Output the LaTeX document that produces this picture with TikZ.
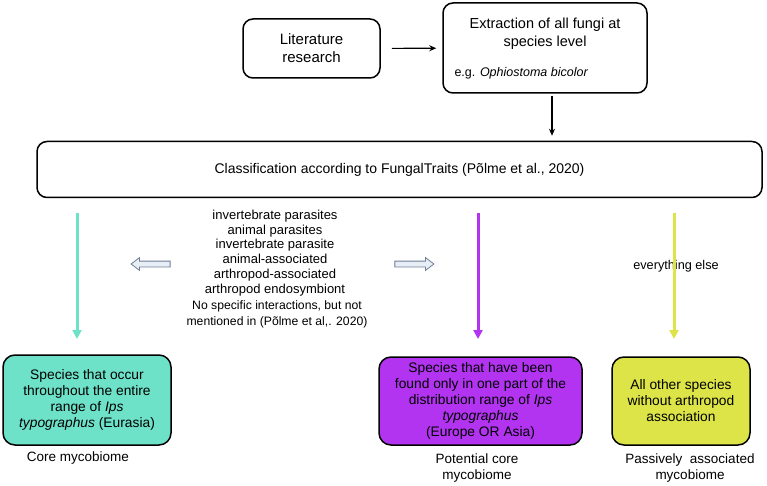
\documentclass[tikz,border=0pt]{standalone}
\usepackage{fontspec}
\setmainfont{Liberation Sans}
\usetikzlibrary{arrows.meta,shapes.arrows}
\definecolor{tealc}{RGB}{110,226,200}
\definecolor{purpc}{RGB}{178,52,240}
\definecolor{yelc}{RGB}{221,228,72}
\definecolor{hollowfill}{RGB}{232,238,246}
\definecolor{hollowline}{RGB}{110,125,150}
\tikzset{
  box/.style={draw=black, line width=1.5pt, rounded corners=10pt, inner sep=0pt},
  cbox/.style={draw=black, line width=1.5pt, rounded corners=12pt, inner sep=0pt, align=center, font=\fontsize{13.8}{16}\selectfont},
  blk/.style={-{Stealth[length=7pt,width=6pt]}, line width=1.1pt},
  colarr/.style={line width=3pt, -{Triangle[length=9pt,width=9pt]}},
  hollow/.style={single arrow, draw=hollowline, fill=hollowfill, line width=0.8pt,
    minimum height=39pt, inner xsep=0pt, inner ysep=2.5pt, single arrow head extend=3.5pt,
    single arrow tip angle=75},
  lbl/.style={align=center, font=\fontsize{13.5}{16}\selectfont},
}
\begin{document}
\begin{tikzpicture}[x=1pt,y=-1pt]
\useasboundingbox (0,0) rectangle (767,486);
% top boxes
\node[box, minimum width=137pt, minimum height=59pt, align=center, font=\fontsize{15}{18}\selectfont] (lit) at (311.5,48.5) {Literature\\research};
\node[box, minimum width=204pt, minimum height=90pt] (ext) at (545,48) {};
\node[align=center, font=\fontsize{14.5}{18}\selectfont] (exttitle) at (545,34) {Extraction of all fungi at\\species level};
\node[anchor=west, font=\fontsize{12.5}{14}\selectfont] (exteg) at (451,73) {e.g. \textit{Ophiostoma bicolor}};
\draw[blk, shorten <=11pt, shorten >=6pt] (lit) -- (ext);
\coordinate (dx) at (552,0);
\node[box, minimum width=725pt, minimum height=56pt, font=\fontsize{14}{16}\selectfont] (cls) at (399.5,169.5) {Classification according to FungalTraits (Põlme et al., 2020)};
\draw[blk, shorten <=2pt, shorten >=5pt] (ext.south -| dx) -- (cls.north -| dx);
% colored arrows
\coordinate (ta) at (77,213); \coordinate (tb) at (77,339);
\coordinate (pa) at (478,213); \coordinate (pb) at (478,339);
\coordinate (ya) at (674,213); \coordinate (yb) at (674,339);
% middle text
\node[align=center, font=\fontsize{13}{14.8}\selectfont] (mid) at (275,253) {invertebrate parasites\\animal parasites\\invertebrate parasite\\animal-associated\\arthropod-associated\\arthropod endosymbiont};
\node[align=center, font=\fontsize{12.2}{16}\selectfont] (mid2) at (277,314) {No specific interactions, but not\\mentioned in (Põlme et al,. 2020)};
\node[hollow, shape border rotate=180] (hl) at (152.5,264) {};
\node[hollow] (hr) at (412.5,264) {};
\node[font=\fontsize{12.7}{15}\selectfont] (else) at (676,266) {everything else};
\draw[colarr, tealc] (ta) -- (tb);
\draw[colarr, purpc] (pa) -- (pb);
\draw[colarr, yelc] (ya) -- (yb);
% bottom boxes
\node[cbox, fill=tealc, minimum width=168pt, minimum height=90pt] (core) at (87,400) {Species that occur\\throughout the entire\\range of \textit{Ips}\\\textit{typographus} (Eurasia)};
\node[cbox, fill=purpc, minimum width=203pt, minimum height=88pt] (pot) at (480.5,401) {Species that have been\\found only in one part of the\\distribution range of \textit{Ips}\\\textit{typographus}\\(Europe OR Asia)};
\node[cbox, fill=yelc, minimum width=138pt, minimum height=88pt] (pas) at (681,401) {All other species\\without arthropod\\association};
\node[lbl] (l1) at (78,458) {Core mycobiome};
\node[lbl] (l2) at (477,468) {Potential core\\mycobiome};
\node[lbl] (l3) at (690,468) {Passively\ \ associated\\mycobiome};
\end{tikzpicture}
\end{document}
